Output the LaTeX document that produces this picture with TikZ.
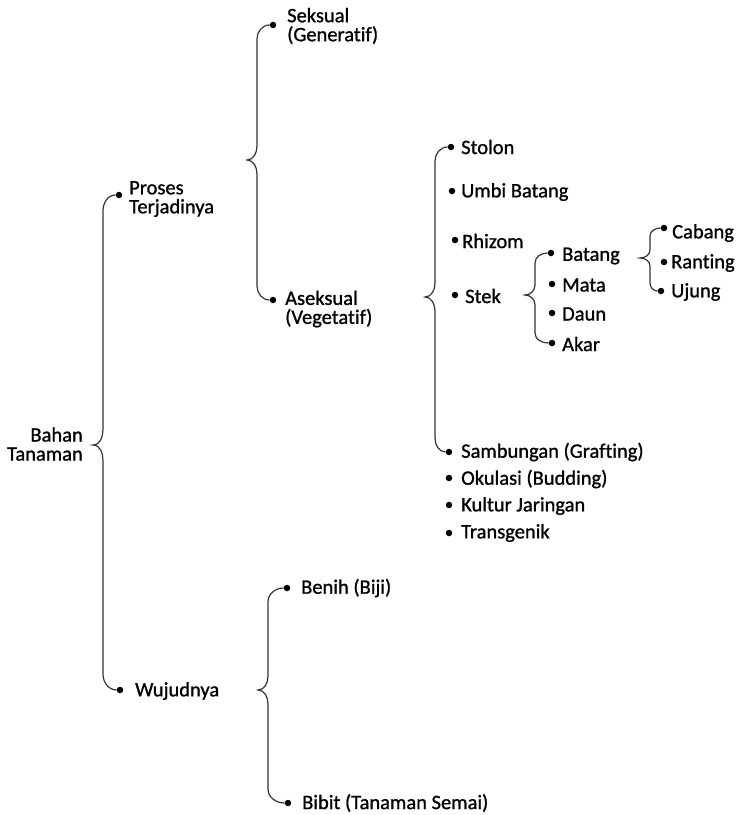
\documentclass[tikz,border=0pt]{standalone}
\usepackage{fontspec}
\setmainfont[Ligatures=NoCommon,FakeBold=1]{Carlito}
\usepackage{tikz}
\usetikzlibrary{positioning}
\usetikzlibrary{calc}
\tikzset{dot/.style={circle,fill=black,inner sep=0pt,minimum size=6.5pt},
  lbl/.style={inner sep=0pt,align=left,anchor=west,font=\fontsize{20.5}{19}\selectfont},
  brc/.style={line width=1.2pt,color=black!80}}

% curly bracket: radius, tip, top item, bottom item
\newcommand{\curly}[4]{%
  \draw[brc] let \p1=(#2), \p2=(#3), \p3=(#4) in
    (#3.west) to[out=180,in=90] (\x1+10pt,\y2-#1pt) -- (\x1+10pt,\y1+#1pt)
    to[out=-90,in=0] (#2) to[out=0,in=90] (\x1+10pt,\y1-#1pt)
    -- (\x1+10pt,\y3+#1pt) to[out=-90,in=180] (#4.west);}

\begin{document}
\begin{tikzpicture}[x=1pt,y=-1pt]
  \useasboundingbox (0,0) rectangle (737,815);

  \node[lbl,anchor=east,align=right] (bahan) at (83,444) {Bahan\\Tanaman};

  \foreach \bx/\by/\tx/\ty/\name/\txt in {
      119/195/129/199/proses/{Proses\\Terjadinya},
      120/690/135/691/wujud/Wujudnya,
      273/25/287/26/sek/{Seksual\\(Generatif)},
      273/300/285/309/asek/{Aseksual\\(Vegetatif)},
      451/147/461/147/stolon/Stolon,
      452/191/461/192/umbi/Umbi Batang,
      455/240/462/241/rhizom/Rhizom,
      455/295/465/296/stek/Stek,
      449/452/461/452/samb/Sambungan (Grafting),
      449/478/461/479/okul/Okulasi (Budding),
      449/505/461/506/kultur/Kultur Jaringan,
      449/533/461/533/trans/Transgenik,
      551/253/562/256/batang/Batang,
      552/284/562/285/mata/Mata,
      552/313/562/314/daun/Daun,
      552/343/562/344/akar/Akar,
      664/228/672/233/cabang/Cabang,
      664/262/671/263/ranting/Ranting,
      661/291/671/292/ujung/Ujung,
      287/588/301/588/benih/Benih (Biji),
      288/803/302/803/bibit/Bibit (Tanaman Semai)} {
    \node[dot] (\name) at (\bx,\by) {};
    \node[lbl] (\name-t) at (\tx,\ty) {\txt};
  }

  \coordinate (tip1) at (93,445);
  \coordinate (tip2) at (247,160);
  \coordinate (tip3) at (425,297);
  \coordinate (tip4) at (525,295);
  \coordinate (tip5) at (640,258);
  \coordinate (tip6) at (258,690);

  \curly{16}{tip1}{proses}{wujud}
  \curly{14}{tip2}{sek}{asek}
  \curly{14}{tip3}{stolon}{samb}
  \curly{10}{tip4}{batang}{akar}
  \curly{8}{tip5}{cabang}{ujung}
  \curly{14}{tip6}{benih}{bibit}
\end{tikzpicture}
\end{document}
